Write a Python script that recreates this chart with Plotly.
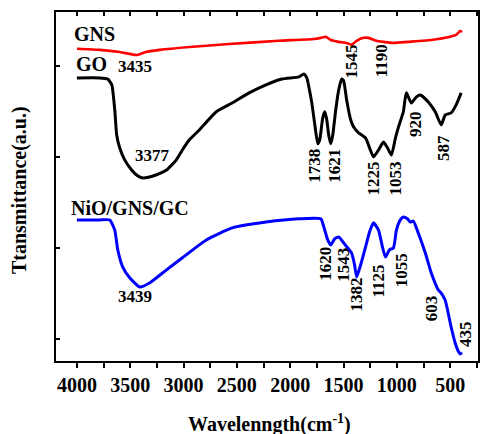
import plotly.graph_objects as go

# ---- data (wavenumber cm^-1, transmittance a.u.) ----
gns_wn = [4000, 3785, 3599, 3505, 3431, 3356, 3225, 2945, 2572, 2105, 1779, 1713, 1667, 1620, 1545, 1471,
          1424, 1377, 1312, 1265, 1191, 1125, 1032, 892, 752, 612, 500, 444, 407, 388]
gns_t = [79.7, 79.4, 78.8, 78.3, 78.0, 78.8, 79.4, 80.2, 81.0, 81.9, 82.4, 82.7, 83.0, 82.1, 81.6, 81.3,
         80.8, 81.9, 82.7, 82.7, 81.9, 81.6, 81.3, 81.6, 81.9, 82.4, 83.0, 83.5, 84.6, 84.3]

go_wn = [4000, 3785, 3711, 3673, 3645, 3627, 3599, 3552, 3487, 3431, 3384, 3319, 3253, 3160, 3067, 3011,
         2945, 2852, 2693, 2544, 2385, 2227, 2077, 1919, 1872, 1844, 1825, 1797, 1769, 1741, 1723, 1695,
         1676, 1657, 1639, 1620, 1601, 1573, 1545, 1517, 1499, 1471, 1433, 1405, 1359, 1293, 1256, 1219,
         1172, 1125, 1088, 1051, 1013, 985, 939, 911, 864, 817, 780, 705, 640, 584, 547, 491, 444, 397]
go_t = [71.7, 71.7, 71.4, 69.8, 62.9, 56.0, 52.5, 49.2, 46.4, 44.8, 44.2, 44.5, 45.1, 46.4, 49.2, 51.9,
        54.7, 57.4, 62.4, 64.8, 67.6, 69.8, 71.4, 72.0, 72.8, 71.7, 69.2, 64.8, 58.8, 53.6, 54.7, 60.7,
        62.4, 60.2, 56.0, 53.6, 56.0, 62.9, 68.4, 71.4, 70.9, 65.7, 60.2, 58.2, 56.6, 55.2, 52.5, 50.0,
        51.9, 54.1, 52.5, 50.5, 55.2, 58.2, 62.4, 67.6, 64.8, 66.5, 67.0, 65.1, 62.4, 58.8, 61.5, 62.1,
        64.3, 67.6]

nio_wn = [4000, 3785, 3692, 3645, 3617, 3571, 3505, 3412, 3319, 3160, 3011, 2787, 2544, 2227, 1919, 1713,
          1685, 1648, 1620, 1583, 1545, 1499, 1461, 1424, 1396, 1377, 1340, 1293, 1256, 1219, 1172, 1135,
          1107, 1069, 1032, 1004, 967, 939, 901, 873, 845, 799, 733, 677, 612, 584, 547, 491, 453, 425,
          407, 388]
nio_t = [32.7, 32.7, 32.7, 29.9, 24.5, 19.8, 16.8, 14.3, 15.4, 19.0, 22.3, 27.2, 30.5, 32.1, 33.0, 33.0,
         30.8, 27.2, 25.8, 27.5, 28.0, 26.4, 25.0, 23.6, 20.3, 17.0, 20.3, 25.3, 29.4, 31.9, 29.9, 25.3,
         22.5, 24.5, 25.0, 29.9, 32.7, 33.5, 33.0, 32.1, 32.4, 29.1, 23.6, 18.1, 13.5, 12.6, 10.7, 3.3,
         -1.1, -3.3, -4.1, -3.8]

series_names = ["GNS", "GO", "NiO/GNS/GC"]
x_ticks = [4000, 3500, 3000, 2500, 2000, 1500, 1000, 500]

# horizontal labels: text, then positions
h_labels = ["GNS", "GO", "NiO/GNS/GC", "3435", "3377", "3439"]
h_pos = [(3832, 83.8, 20), (3860, 75.5, 20), (3505, 36.0, 20),
         (3459, 74.7, 17), (3291, 50.3, 17), (3459, 11.8, 17)]
# rotated peak labels
v_labels = ["1545", "1190", "1738", "1621", "1225", "1053", "920", "587",
            "1620", "1543", "1382", "1125", "1055", "603", "435"]
v_pos = [(1424, 76.1), (1144, 76.4), (1779, 47.5), (1592, 47.5), (1219, 44.2), (1013, 44.2),
         (827, 59.1), (556, 52.5), (1667, 20.6), (1508, 20.3), (1377, 12.1), (1172, 15.9),
         (957, 19.0), (677, 8.5), (351, 1.4)]

FONT = "Liberation Serif"

fig = go.Figure()
for wn, t, name, col, w in [(gns_wn, gns_t, series_names[0], "#ff0000", 2.6),
                            (go_wn, go_t, series_names[1], "#000000", 3),
                            (nio_wn, nio_t, series_names[2], "#0000ff", 3)]:
    fig.add_trace(go.Scatter(x=wn, y=t, mode="lines", name=name,
                             line=dict(color=col, width=w, shape="spline", smoothing=0.5)))
# invisible trace to anchor the top axis
fig.add_trace(go.Scatter(x=[1000], y=[0], xaxis="x2", mode="markers",
                         marker=dict(opacity=0), showlegend=False, hoverinfo="skip"))

xr = [4196, 239]
fig.update_layout(
    width=481, height=434,
    margin=dict(l=56, r=1, t=12, b=73),
    paper_bgcolor="white", plot_bgcolor="white",
    showlegend=False,
    font=dict(family=FONT, color="black"),
    xaxis=dict(range=xr, tickvals=x_ticks, ticks="outside", ticklen=5, tickwidth=1.5,
               tickcolor="black", showline=True, linewidth=2, linecolor="black", mirror=True,
               showgrid=False, zeroline=False,
               tickfont=dict(family=FONT, size=20, weight="bold", color="black"),
               minor=dict(dtick=250, tick0=0, ticks="outside", ticklen=5, tickwidth=1.5,
                          tickcolor="black", showgrid=False)),
    xaxis2=dict(range=xr, overlaying="x", side="top", tickvals=x_ticks, ticks="inside",
                ticklen=4, tickwidth=1.5, tickcolor="black", showticklabels=False,
                showgrid=False, zeroline=False,
                minor=dict(dtick=250, tick0=0, ticks="inside", ticklen=4, tickwidth=1.5,
                           tickcolor="black", showgrid=False)),
    yaxis=dict(range=[-6.04, 89.8], tickvals=[0, 25, 50, 75], ticks="inside", ticklen=4,
               tickwidth=1.5, tickcolor="black", showticklabels=False, showline=True,
               linewidth=2, linecolor="black", mirror=True, showgrid=False, zeroline=False),
)

anns = []
for txt, (x, y, s) in zip(h_labels, h_pos):
    anns.append(dict(x=x, y=y, xref="x", yref="y", text=txt, showarrow=False,
                     font=dict(family=FONT, size=s, weight="bold", color="black")))
for txt, (x, y) in zip(v_labels, v_pos):
    anns.append(dict(x=x, y=y, xref="x", yref="y", text=txt, showarrow=False, textangle=-90,
                     font=dict(family=FONT, size=17, weight="bold", color="black")))
anns.append(dict(x=0.507, y=-0.178, xref="paper", yref="paper", text="Wavelenngth(cm<sup>-1</sup>)",
                 showarrow=False, xanchor="center", yanchor="middle",
                 font=dict(family=FONT, size=20, weight="bold", color="black")))
anns.append(dict(x=-0.085, y=0.49, xref="paper", yref="paper", text="Ttansmittance(a.u.)",
                 showarrow=False, textangle=-90, xanchor="center", yanchor="middle",
                 font=dict(family=FONT, size=20, weight="bold", color="black")))
fig.update_layout(annotations=anns)

fig.write_html("out.html", config={"displayModeBar": False},
               post_script="document.body.style.margin='0';document.body.style.overflow='hidden';")
